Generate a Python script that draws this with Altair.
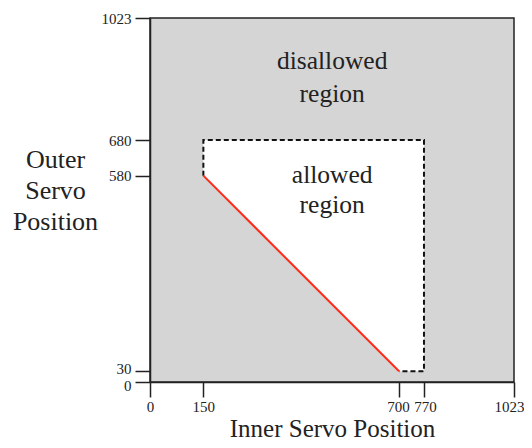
import altair as alt
import pandas as pd

FONT = "Liberation Serif"

x_ticks = [0, 150, 700, 770, 1023]
y_ticks = [0, 30, 580, 680, 1023]

# full range (disallowed region)
full_x = [0]
full_x2 = [1023]
full_y = [0]
full_y2 = [1023]

# allowed region polygon (as area between top and bottom edges)
area_x = [150, 700, 770]
area_top = [680, 680, 680]
area_bot = [580, 30, 30]

# dashed boundary
dash_x = [150, 150, 770, 770, 700]
dash_y = [580, 680, 680, 30, 30]

# red line
red_x = [150, 700]
red_y = [580, 30]

# annotation text
ann_text = ["disallowed", "region", "allowed", "region"]
ann_x = [512, 512, 512, 512]
ann_y = [880, 788, 559, 475]

xs = alt.Scale(domain=[0, 1023], nice=False, zero=False)
ys = alt.Scale(domain=[0, 1023], nice=False, zero=False)

common = dict(grid=False, format="d",
              tickSize=15, tickWidth=1.5, tickColor="#222", domainColor="#222",
              domainWidth=1.5, labelFont=FONT, labelFontSize=15, labelColor="#222",
              labelFlush=False, labelOverlap=False,
              titleFont=FONT, titleFontWeight="normal",
              titleColor="#222", titleAlign="center", titleBaseline="alphabetic",
              zindex=1)

x_axis = alt.Axis(values=x_ticks, title="Inner Servo Position", labelPadding=2,
                  labelOffset={"expr": "datum.value == 1023 ? -5 : (datum.value == 700 ? -1 : (datum.value == 770 ? 1 : 0))"},
                  titleFontSize=25, titleX=182, titleY=54, **common)
y_axis = alt.Axis(values=y_ticks, title=["Outer", "Servo", "Position"], labelPadding=4,
                  labelOffset={"expr": "datum.value == 30 ? -3 : (datum.value == 0 ? 3 : 0)"},
                  titleFontSize=26, titleAngle=0, titleX=-95, titleY=149,
                  titleLineHeight=31, **common)

bg = alt.Chart(pd.DataFrame({"x": full_x, "x2": full_x2, "y": full_y, "y2": full_y2})).mark_rect(
    fill="#d5d5d5", stroke="#222", strokeWidth=1.5
).encode(
    x=alt.X("x:Q", scale=xs, axis=x_axis), x2="x2:Q",
    y=alt.Y("y:Q", scale=ys, axis=y_axis), y2="y2:Q",
)

allowed = alt.Chart(pd.DataFrame({"x": area_x, "top": area_top, "bot": area_bot})).mark_area(
    color="white", opacity=1
).encode(
    x=alt.X("x:Q", scale=xs), y=alt.Y("top:Q", scale=ys), y2="bot:Q"
)

dash = alt.Chart(pd.DataFrame({"x": dash_x, "y": dash_y, "o": list(range(len(dash_x)))})).mark_line(
    color="#111", strokeWidth=2, strokeDash=[5, 3]
).encode(
    x=alt.X("x:Q", scale=xs), y=alt.Y("y:Q", scale=ys), order="o:O"
)

red = alt.Chart(pd.DataFrame({"x": red_x, "y": red_y})).mark_line(
    color="#ff2a1a", strokeWidth=2
).encode(
    x=alt.X("x:Q", scale=xs), y=alt.Y("y:Q", scale=ys)
)

ann = alt.Chart(pd.DataFrame({"t": ann_text, "x": ann_x, "y": ann_y})).mark_text(
    font=FONT, fontSize=25.5, color="#222", baseline="alphabetic", align="center"
).encode(
    x=alt.X("x:Q", scale=xs), y=alt.Y("y:Q", scale=ys), text="t:N"
)

chart = alt.layer(bg, allowed, dash, red, ann).properties(
    width=364, height=364,
    autosize="none",
    padding={"left": 142, "top": 10, "right": 10, "bottom": 58},
).configure_view(stroke=None)

chart.save("out.html", embed_options={"renderer": "svg", "actions": False})
